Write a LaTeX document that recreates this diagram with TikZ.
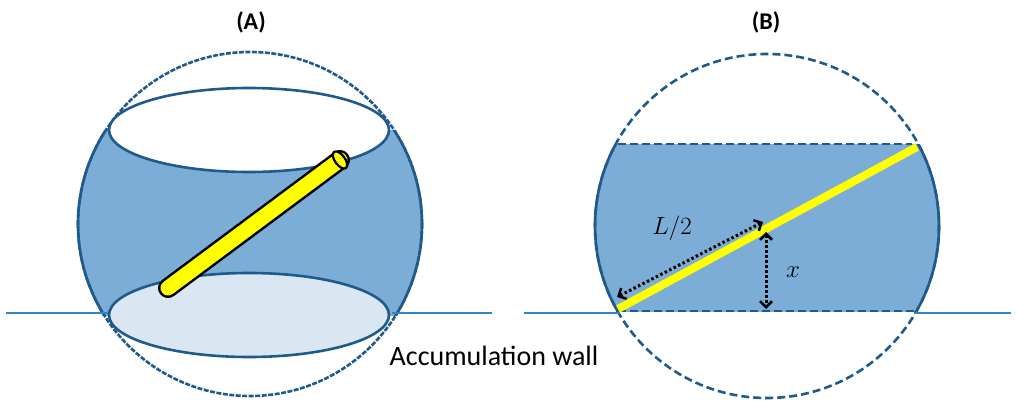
\documentclass[tikz,border=0pt]{standalone}
\usepackage{fontspec}
\setmainfont{Carlito}
\usetikzlibrary{arrows.meta}
\definecolor{edge}{HTML}{1F5A8A}
\definecolor{band}{HTML}{7BADD6}
\definecolor{light}{HTML}{DAE6F2}
\definecolor{wall}{HTML}{2E86C8}
\definecolor{rod}{HTML}{FFFF00}
\begin{document}
\begin{tikzpicture}[x=1pt,y=-1pt,
  sph/.style={draw=edge,line width=2.6pt},
  dsph/.style={draw=edge,line width=2.6pt,dash pattern=on 8pt off 4pt},
  wallline/.style={draw=wall,line width=2.8pt},
  dim/.style={black,line width=3pt,dash pattern=on 2.5pt off 2.5pt,{Straight Barb[length=6pt,width=12pt,line width=2.5pt]}-{Straight Barb[length=6pt,width=12pt,line width=2.5pt]}},
  lab/.style={font=\fontsize{24}{24}\selectfont\bfseries},
  mathlab/.style={font=\fontsize{30}{30}\selectfont}]
\useasboundingbox (0,0) rectangle (1024,417);
% ---------- A ----------
\coordinate (ca) at (250,224);
\begin{scope}
  \clip (0,130) rectangle (512,315);
  \fill[band] (ca) circle (172);
  \draw[sph] (ca) circle (172);
\end{scope}
\draw[dsph,dash pattern=on 5pt off 1.5pt] (ca) circle (172);
\draw[sph,fill=white] (249,130) ellipse (140 and 42);
\draw[wallline] (6,313) -- (108,313);
\draw[wallline] (392,313) -- (492,313);
\draw[sph,fill=light] (249,315) ellipse (140 and 42);
\coordinate (r1) at (168,288);
\coordinate (r2) at (340,160);
\draw[line width=20pt,line cap=round] (r1) -- (r2);
\draw[rod,line width=15pt,line cap=round] (r1) -- (r2);
\fill[rod,draw=black,line width=2.2pt] (r2) ellipse[x radius=10, y radius=5, rotate=-53.3];
\node[lab] (la) at (251,22) {(A)};
\node[font=\fontsize{28}{28}\selectfont] (wl) at (494,356) {Accumulation wall};
% ---------- B ----------
\coordinate (cb) at (767,226);
\begin{scope}
  \clip (512,144) rectangle (1024,311);
  \fill[band] (cb) circle (172);
  \draw[sph] (cb) circle (172);
\end{scope}
\draw[dsph] (cb) circle (172);
\draw[dsph] (618,144) -- (912,144);
\draw[dsph] (618,311) -- (915,311);
\draw[wallline] (524,313) -- (620,313);
\draw[wallline] (914,313) -- (1011,313);
\coordinate (y1) at (618,309);
\coordinate (y2) at (917,147);
\draw[rod,line width=8pt] (y1) -- (y2);
\coordinate (a1) at (763,222);
\coordinate (a2) at (617,297);
\draw[dim] (a1) -- (a2);
\coordinate (b1) at (766,232);
\coordinate (b2) at (766,309);
\draw[dim] (b1) -- (b2);
\node[lab] (lb) at (766,22) {(B)};
\node[mathlab] (ll) at (672,228) {$L/2$};
\node[mathlab] (lx) at (793,272) {$x$};
\end{tikzpicture}
\end{document}
